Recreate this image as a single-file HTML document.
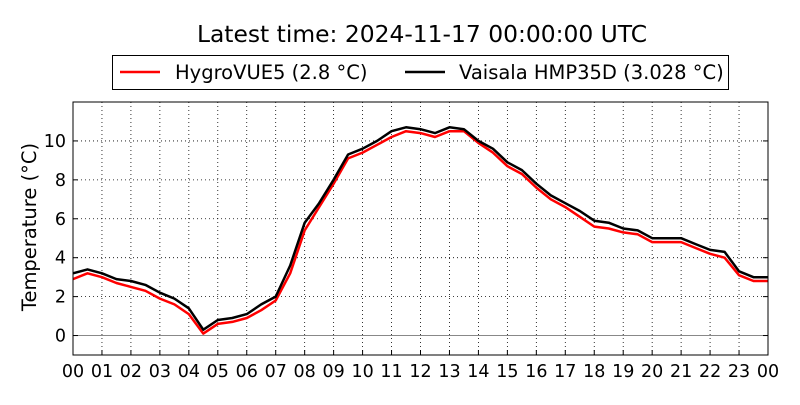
<!DOCTYPE html>
<html><head><meta charset="utf-8"><style>
body{margin:0;background:#fff;}
svg{font-family:"DejaVu Sans","Liberation Sans",sans-serif;}
</style></head><body>
<svg id="chart" width="800" height="400" viewBox="0 0 800 400">
<rect width="800" height="400" fill="#fff"/>
<text x="422" y="42" font-size="23.4" text-anchor="middle">Latest time: 2024-11-17 00:00:00 UTC</text>
<g>
<rect x="112.5" y="55.5" width="616" height="34" fill="#fff" stroke="#000"/>
<line x1="120" y1="72" x2="160" y2="72" stroke="red" stroke-width="2.5"/>
<text x="175" y="79" font-size="19.5">HygroVUE5 (2.8 °C)</text>
<line x1="405" y1="72" x2="445" y2="72" stroke="#000" stroke-width="2.5"/>
<text x="459" y="79" font-size="19.5">Vaisala HMP35D (3.028 °C)</text>
</g>
<text transform="translate(36,227) rotate(-90)" font-size="19.5" text-anchor="middle">Temperature (°C)</text>
<g id="grid"></g><g id="series"></g><g id="axes"></g>
</svg>
<script>
const hours = [0,0.5,1,1.5,2,2.5,3,3.5,4,4.5,5,5.5,6,6.5,7,7.5,8,8.5,9,9.5,10,10.5,11,11.5,12,12.5,13,13.5,14,14.5,15,15.5,16,16.5,17,17.5,18,18.5,19,19.5,20,20.5,21,21.5,22,22.5,23,23.5,24];
const vaisala = [3.2,3.4,3.2,2.9,2.8,2.6,2.2,1.9,1.4,0.3,0.8,0.9,1.1,1.6,2.0,3.6,5.8,6.8,8.0,9.3,9.6,10.0,10.5,10.7,10.6,10.4,10.7,10.6,10.0,9.6,8.9,8.5,7.8,7.2,6.8,6.4,5.9,5.8,5.5,5.4,5.0,5.0,5.0,4.7,4.4,4.3,3.3,3.0,3.0];
const hygro = [2.9,3.2,3.0,2.7,2.5,2.3,1.9,1.6,1.1,0.1,0.6,0.7,0.9,1.3,1.8,3.2,5.4,6.6,7.8,9.1,9.4,9.8,10.2,10.5,10.4,10.2,10.5,10.5,9.9,9.4,8.7,8.3,7.6,7.0,6.6,6.1,5.6,5.5,5.3,5.2,4.8,4.8,4.8,4.5,4.2,4.0,3.1,2.8,2.8];
const yTicks = [0,2,4,6,8,10];
const xTicks = ["00","01","02","03","04","05","06","07","08","09","10","11","12","13","14","15","16","17","18","19","20","21","22","23","00"];
const L=73,R=768,T=102,B=355,yMin=-1,yMax=12;
const sx=h=>L+(R-L)*h/24, sy=v=>B-(B-T)*(v-yMin)/(yMax-yMin);
const NS="http://www.w3.org/2000/svg";
function mk(tag,attrs,parent){const e=document.createElementNS(NS,tag);for(const k in attrs)e.setAttribute(k,attrs[k]);parent.appendChild(e);return e;}
const grid=document.getElementById('grid'),axes=document.getElementById('axes'),series=document.getElementById('series');
xTicks.forEach((t,i)=>{const x=sx(i);
 if(i>0&&i<24){const g=mk('line',{x1:x,x2:x,y1:T,y2:B,stroke:'#000','stroke-width':0.8,'stroke-dasharray':'1,3'},grid);
 
 }
 const tk=mk('line',{x1:x,x2:x,y1:B,y2:B-5,stroke:'#000'},axes);
 
 
 const tx=mk('text',{x:x,y:B+22,'font-size':17.5,'text-anchor':'middle'},axes);tx.textContent=t;
 
 
});
yTicks.forEach(v=>{const y=sy(v);
 const g=mk('line',{x1:L,x2:R,y1:y,y2:y,stroke:'#000','stroke-width':0.8,'stroke-dasharray':'1,3'},grid);
 
 
 const tk=mk('line',{x1:L,x2:L+5,y1:y,y2:y,stroke:'#000'},axes);
 
 
 const tk2=mk('line',{x1:R,x2:R-5,y1:y,y2:y,stroke:'#000'},axes);
 
 
 const tx=mk('text',{x:L-7,y:y+6,'font-size':17.5,'text-anchor':'end'},axes);tx.textContent=v;
 
 
});
const zl=mk('line',{x1:L,x2:R,y1:sy(0),y2:sy(0),stroke:'#888','stroke-width':1},grid);


function path(vals,color,name){const d=vals.map((v,i)=>(i?'L':'M')+sx(hours[i]).toFixed(1)+','+sy(v).toFixed(1)).join('');
 const p=mk('path',{d:d,fill:'none',stroke:color,'stroke-width':2.5,'stroke-linejoin':'round'},series);
 
 }
path(hygro,'red','hygrovue5-line');
path(vaisala,'#000','vaisala-line');
const fr=mk('rect',{x:L,y:T,width:R-L,height:B-T,fill:'none',stroke:'#000','stroke-width':1},axes);


</script>
</body></html>
